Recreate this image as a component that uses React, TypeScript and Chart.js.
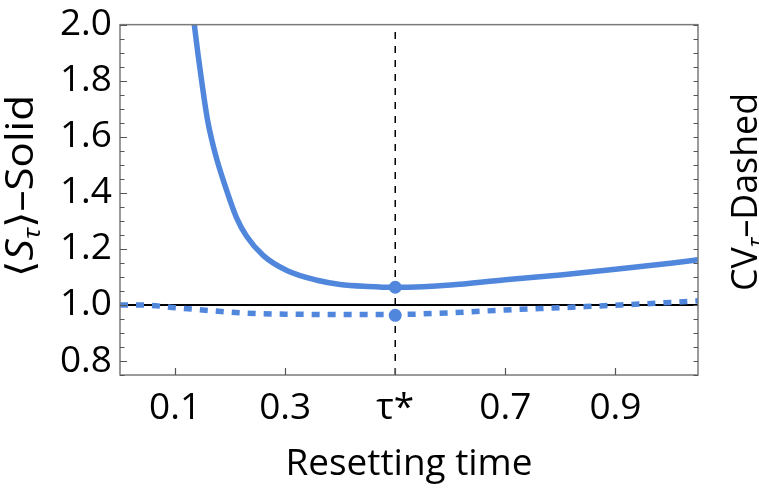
import React, { useEffect, useRef } from "react";
import { Chart, registerables } from "chart.js";

Chart.register(...registerables);

// ---- data ----
const solidTimes = [0.133, 0.135, 0.142, 0.15, 0.159, 0.173, 0.191, 0.212, 0.23, 0.261, 0.303, 0.358, 0.4, 0.45, 0.5, 0.55, 0.6, 0.7, 0.8, 0.9, 1.0, 1.05];
const solidValues = [2.03, 2.0, 1.89, 1.775, 1.66, 1.54, 1.425, 1.31, 1.245, 1.175, 1.123, 1.088, 1.073, 1.066, 1.063, 1.065, 1.071, 1.09, 1.107, 1.127, 1.149, 1.161];
const dashedTimes = [0, 0.05, 0.1, 0.15, 0.2, 0.25, 0.3, 0.4, 0.5, 0.6, 0.7, 0.8, 0.9, 1.0, 1.05];
const dashedValues = [1.0, 0.999, 0.99, 0.982, 0.974, 0.969, 0.967, 0.966, 0.966, 0.972, 0.982, 0.99, 0.999, 1.009, 1.015];
const tauStar = 0.5;
const optimumValues = [1.063, 0.963];
const referenceLevel = 1.0;
const xTickValues = [0.1, 0.3, 0.5, 0.7, 0.9];
const xTickLabels = ["0.1", "0.3", "τ*", "0.7", "0.9"];
const yTickValues = [0.8, 1.0, 1.2, 1.4, 1.6, 1.8, 2.0];
const xMin = 0;
const xMax = 1.05;
const yMin = 0.75;
const yMax = 2.0;
const yMinorStep = 0.05;

const BLUE = "#5087dc";
const FONT = "'Open Sans', 'DejaVu Sans', sans-serif";

type Part = { text: string; size: number; italic?: boolean; dy?: number };

function drawRich(
  ctx: CanvasRenderingContext2D,
  parts: Part[],
  x: number,
  y: number,
  rotate: boolean,
  targetLen: number
) {
  ctx.save();
  let total = 0;
  const widths: number[] = [];
  for (const p of parts) {
    ctx.font = `${p.italic ? "italic " : ""}${p.size}px ${FONT}`;
    const w = ctx.measureText(p.text).width;
    widths.push(w);
    total += w;
  }
  ctx.translate(x, y);
  if (rotate) ctx.rotate(-Math.PI / 2);
  ctx.scale(targetLen / total, 1);
  ctx.fillStyle = "#000";
  ctx.textBaseline = "alphabetic";
  ctx.textAlign = "left";
  let cx = -total / 2;
  parts.forEach((p, i) => {
    ctx.font = `${p.italic ? "italic " : ""}${p.size}px ${FONT}`;
    ctx.fillText(p.text, cx, p.dy || 0);
    cx += widths[i];
  });
  ctx.restore();
}

const decorPlugin = {
  id: "decor",
  afterDraw(chart: any) {
    const { ctx, chartArea } = chart;
    const xs = chart.scales.x;
    const ys = chart.scales.y;
    const { left, right, top, bottom } = chartArea;
    ctx.save();
    // frame
    ctx.strokeStyle = "#7a7a7a";
    ctx.lineWidth = 1.5;
    ctx.strokeRect(left, top, right - left, bottom - top);
    // y ticks (inside, both sides)
    ctx.strokeStyle = "#555";
    ctx.lineWidth = 1.2;
    const n = Math.round((yMax - yMin) / yMinorStep);
    for (let i = 0; i <= n; i++) {
      const v = yMin + i * yMinorStep;
      const isMajor = yTickValues.some((t) => Math.abs(t - v) < 1e-6);
      const py = Math.round(ys.getPixelForValue(v)) + 0.5;
      const len = isMajor ? 7 : 4.5;
      ctx.beginPath();
      ctx.moveTo(left, py);
      ctx.lineTo(left + len, py);
      ctx.moveTo(right, py);
      ctx.lineTo(right - 4.5, py);
      ctx.stroke();
    }
    // x ticks (inside)
    for (const v of xTickValues) {
      const px = Math.round(xs.getPixelForValue(v)) + 0.5;
      ctx.beginPath();
      ctx.moveTo(px, bottom);
      ctx.lineTo(px, bottom - 7);
      ctx.stroke();
    }
    ctx.restore();

    // titles
    drawRich(ctx, [{ text: "Resetting time", size: 36 }], (left + right) / 2, 475, false, 247);
    drawRich(
      ctx,
      [
        { text: "⟨", size: 38 },
        { text: "S", size: 38, italic: true },
        { text: "τ", size: 24, italic: true, dy: 7 },
        { text: "⟩", size: 38 },
        { text: "–Solid", size: 38 },
      ],
      33,
      186,
      true,
      182
    );
    drawRich(
      ctx,
      [
        { text: "CV", size: 36 },
        { text: "τ", size: 23, italic: true, dy: 7 },
        { text: "–Dashed", size: 36 },
      ],
      757,
      192,
      true,
      198
    );
  },
};

export default function App() {
  const ref = useRef<HTMLCanvasElement | null>(null);
  useEffect(() => {
    if (!ref.current) return;
    const chart = new Chart(ref.current, {
      type: "line",
      data: {
        datasets: [
          {
            label: "optimum",
            data: optimumValues.map((v) => ({ x: tauStar, y: v })),
            showLine: false,
            pointRadius: 6.5,
            pointBackgroundColor: BLUE,
            pointBorderWidth: 0,
            order: 0,
          } as any,
          {
            label: "mean",
            data: solidTimes.map((t, i) => ({ x: t, y: solidValues[i] })),
            borderColor: BLUE,
            borderWidth: 5.5,
            pointRadius: 0,
            cubicInterpolationMode: "monotone",
            clip: 0,
            order: 1,
          },
          {
            label: "cv",
            data: dashedTimes.map((t, i) => ({ x: t, y: dashedValues[i] })),
            borderColor: BLUE,
            borderWidth: 5.5,
            borderDash: [8, 8],
            borderCapStyle: "butt",
            pointRadius: 0,
            cubicInterpolationMode: "monotone",
            clip: 0,
            order: 2,
          },
          {
            label: "level",
            data: [
              { x: xMin, y: referenceLevel },
              { x: xMax, y: referenceLevel },
            ],
            borderColor: "#000",
            borderWidth: 2,
            pointRadius: 0,
            order: 3,
          },
          {
            label: "tau",
            data: [
              { x: tauStar, y: yMin },
              { x: tauStar, y: yMax },
            ],
            borderColor: "#000",
            borderWidth: 1.5,
            borderDash: [7, 7],
            pointRadius: 0,
            order: 4,
          },
        ],
      },
      options: {
        animation: false,
        responsive: false,
        events: [],
        layout: { padding: { top: 17, right: 61, left: 0, bottom: 0 } },
        plugins: {
          legend: { display: false },
          tooltip: { enabled: false },
        },
        scales: {
          x: {
            type: "linear",
            min: xMin,
            max: xMax,
            grid: { display: false, drawTicks: false },
            border: { display: false },
            afterBuildTicks: (s: any) => {
              s.ticks = xTickValues.map((v) => ({ value: v }));
            },
            afterFit: (s: any) => {
              s.height = 121;
            },
            ticks: {
              autoSkip: false,
              maxRotation: 0,
              padding: 11,
              color: "#000",
              font: { family: FONT, size: 37 },
              callback: (v: any) => {
                const i = xTickValues.findIndex((t) => Math.abs(t - Number(v)) < 1e-6);
                return i >= 0 ? xTickLabels[i] : "";
              },
            },
          },
          y: {
            type: "linear",
            min: yMin,
            max: yMax,
            grid: { display: false, drawTicks: false },
            border: { display: false },
            afterBuildTicks: (s: any) => {
              s.ticks = yTickValues.map((v) => ({ value: v }));
            },
            afterFit: (s: any) => {
              s.width = 120;
            },
            ticks: {
              autoSkip: false,
              padding: 8,
              color: "#000",
              font: { family: FONT, size: 37, lineHeight: 0.9 },
              callback: (v: any) => Number(v).toFixed(1),
            },
          },
        },
      },
      plugins: [decorPlugin],
    });
    return () => chart.destroy();
  }, []);
  return (
    <div style={{ position: "fixed", left: 0, top: 0, width: 759, height: 496, background: "#fff" }}>
      <canvas ref={ref} width={759} height={496} style={{ display: "block" }} />
    </div>
  );
}
